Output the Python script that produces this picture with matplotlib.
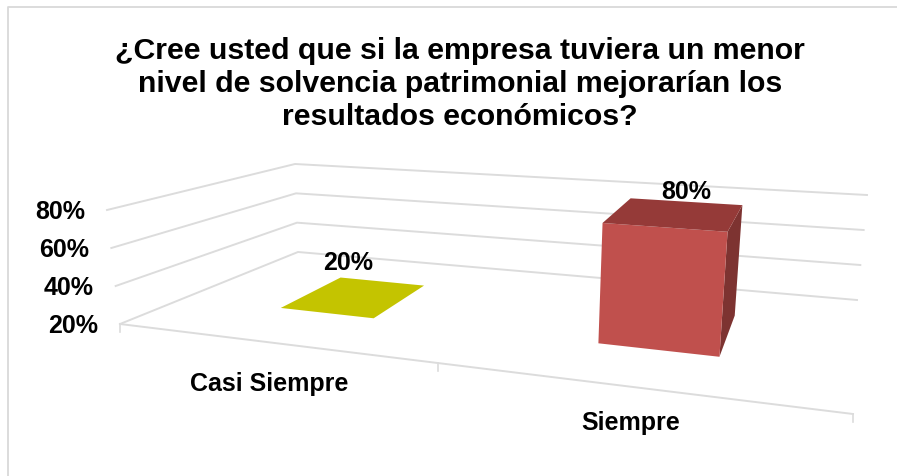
import numpy as np
import matplotlib
matplotlib.use("Agg")
import matplotlib.pyplot as plt
from matplotlib.patches import Polygon

title = "¿Cree usted que si la empresa tuviera un menor\nnivel de solvencia patrimonial mejorarían los\nresultados económicos?"
categories = ["Casi Siempre", "Siempre"]
values = [20, 80]
value_ticks = [20, 40, 60, 80]
bar_colors = ["#c4c400", "#c0504d"]
top_colors = ["#c4c400", "#953a38"]
side_colors = ["#c4c400", "#7d3331"]

plt.rcParams["font.family"] = ["Liberation Sans", "DejaVu Sans"]
W, H = 897, 477
fig = plt.figure(figsize=(W / 100, H / 100), dpi=100)
ax = fig.add_axes([0, 0, 1, 1])
ax.set_xlim(0, W)
ax.set_ylim(H, 0)
ax.axis("off")

# Scene corners in pixels at the lowest and highest value level
C20 = dict(fl=(120, 325), fr=(853, 415), br=(857, 301), bl=(298, 253))
C80 = dict(fl=(107, 211), fr=(867, 270), br=(867, 196), bl=(295, 165))


def project(x, d, v):
    """x: category axis 0..n, d: depth 0..1, v: value in percent"""
    t = (v - 20) / 60
    c = {k: np.array(C20[k]) * (1 - t) + np.array(C80[k]) * t for k in C20}
    u = 0.3834 * x / (1 - 0.1166 * x)
    return (c["fl"] * (1 - u) * (1 - d) + c["fr"] * u * (1 - d)
            + c["bl"] * (1 - u) * d + c["br"] * u * d)


GRID = "#dcdcdc"
n = len(categories)
for v in value_ticks:
    pts = np.array([project(0, 0, v), project(0, 1, v), project(n, 1, v)])
    ax.plot(pts[:, 0], pts[:, 1], color=GRID, lw=1.4, zorder=1)
    p = project(0, 0, v)
    ax.text(p[0] - 22, p[1] + 1, f"{v}%", ha="right", va="center",
            fontsize=18, fontweight="bold", color="black")

floor = np.array([project(0, 0, 20), project(n, 0, 20)])
ax.plot(floor[:, 0], floor[:, 1], color=GRID, lw=1.4, zorder=1)
for x in range(n + 1):
    p = project(x, 0, 20)
    ax.plot([p[0], p[0]], [p[1], p[1] + 8], color=GRID, lw=1.2, zorder=1)

half = 0.16
d0, d1 = 0.37, 0.76
label_off = [(-34, -20), (0, -11)]
cat_pos = [(269, 384), (631, 423)]
for i, (cat, val) in enumerate(zip(categories, values)):
    xa, xb = i + 0.515 - half, i + 0.515 + half
    if val > 20:
        ax.add_patch(Polygon([project(xb, d0, 20), project(xb, d1, 20),
                              project(xb, d1, val), project(xb, d0, val)],
                             fc=side_colors[i], ec="none", zorder=3))
        ax.add_patch(Polygon([project(xa, d0, 20), project(xb, d0, 20),
                              project(xb, d0, val), project(xa, d0, val)],
                             fc=bar_colors[i], ec="none", zorder=4))
    ax.add_patch(Polygon([project(xa, d0, val), project(xb, d0, val),
                          project(xb, d1, val), project(xa, d1, val)],
                         fc=top_colors[i], ec="none", zorder=4))
    top = (project(xa, d1, val) + project(xb, d1, val)) / 2
    ax.text(top[0] + label_off[i][0], top[1] + label_off[i][1], f"{val}%",
            ha="center", va="center", fontsize=18, fontweight="bold",
            color="black", zorder=5)
    ax.text(cat_pos[i][0], cat_pos[i][1], cat, ha="center", va="center",
            fontsize=18, fontweight="bold", color="black")

ax.text(460, 84, title, ha="center", va="center", fontsize=21.8,
        fontweight="bold", color="black", linespacing=1.24)

# Chart frame: only the top and left edges show in the picture
ax.plot([8, 8, W], [H, 8, 8], color="#d9d9d9", lw=1.3, zorder=0)

fig.savefig("out.png", dpi=100)
